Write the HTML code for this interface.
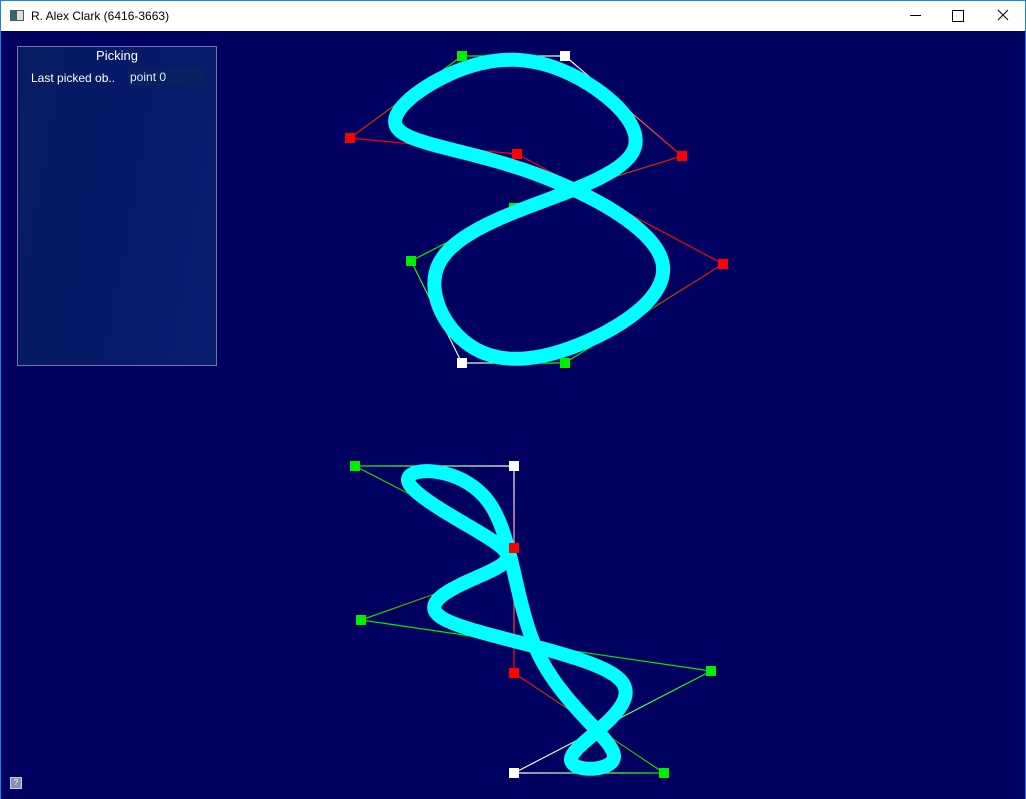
<!DOCTYPE html>
<html><head><meta charset="utf-8">
<style>
html,body{margin:0;padding:0;width:1026px;height:799px;overflow:hidden;background:#fff;font-family:"Liberation Sans",sans-serif;}
#win{position:absolute;left:0;top:0;width:1026px;height:799px;box-sizing:border-box;border:1px solid #1883d7;border-top:none;}
#titlebar{position:absolute;left:0;top:0;width:1024px;height:31px;background:#fff;border-top:1px solid #1883d7;box-sizing:border-box;}
#title{position:absolute;left:30px;top:8px;font-size:12px;color:#000;}
#appicon{position:absolute;left:9px;top:9px;width:14px;height:11px;border:1px solid #555;background:linear-gradient(90deg,#2a6a6a 50%,#ddd 50%);box-sizing:border-box;}
#client{position:absolute;left:0;top:31px;width:1024px;height:768px;background:#000060;}
#panel{position:absolute;left:16px;top:15px;width:200px;height:320px;box-sizing:border-box;border:1px solid #6a7aa0;background:linear-gradient(100deg,#061c62,#061a68 50%,#081e6e);}
#ptitle{position:absolute;left:0;top:0;width:100%;text-align:center;color:#fff;font-size:13px;line-height:18px;}
#plabel{position:absolute;left:13px;top:24px;color:#fff;font-size:12px;}
#pval{position:absolute;left:110px;top:22px;width:74px;height:17px;background:#0a2160;color:#e0e8ff;font-size:12px;line-height:17px;padding-left:2px;}
#help{position:absolute;left:9px;top:746px;width:10px;height:10px;background:#8890b0;border:1px solid #ccd;font-size:8px;line-height:10px;text-align:center;color:#fff;}
svg{position:absolute;left:0;top:0;}
</style></head>
<body>
<div id="win">
<div id="titlebar">
 <div id="appicon"></div>
 <div id="title">R. Alex Clark (6416-3663)</div>
 <div style="position:absolute;left:887px;top:0;width:46px;height:30px;"><div style="position:absolute;left:22px;top:14px;width:11px;height:1px;background:#000"></div></div>
 <div style="position:absolute;left:933px;top:0;width:46px;height:30px;"><div style="position:absolute;left:18px;top:9px;width:10px;height:10px;border:1px solid #000"></div></div>
 <div style="position:absolute;left:979px;top:0;width:46px;height:30px;">
  <svg width="46" height="30" style="position:absolute;left:0;top:0"><line x1="18" y1="9" x2="28" y2="19" stroke="#000" stroke-width="1"/><line x1="28" y1="9" x2="18" y2="19" stroke="#000" stroke-width="1"/></svg>
 </div>
</div>
<div id="client">
 <svg id="plot" width="1024" height="768" viewBox="0 31 1024 768"></svg>
 <div id="panel">
  <div id="ptitle">Picking</div>
  <div id="plabel">Last picked ob..</div>
  <div id="pval">point 0</div>
 </div>
 <div id="help">?</div>
</div>
</div>
<script>
// top curve control points
const topX = [564,681,513,410,461,564,722,516,349,461];
const topY = [56,156,208,261,363,363,264,154,138,56];
const topC = ['#ffffff','#ff0000','#00ee00','#00ee00','#ffffff','#00ee00','#ff0000','#ff0000','#ff0000','#00ee00'];
const topHidden = [false,false,true,false,false,false,false,false,false,false];
// bottom curve control points
const botX = [513,354,513,513,360,710,513,663,513];
const botY = [466,466,548,566,620,671,773,773,673];
const botC = ['#ffffff','#00ee00','#ff0000','#ff0000','#00ee00','#00ee00','#ffffff','#00ee00','#ff0000'];
const botHidden = [false,false,false,true,false,false,false,false,false];

const NS='http://www.w3.org/2000/svg';
const svg=document.getElementById('plot');
const defs=document.createElementNS(NS,'defs');svg.appendChild(defs);
let gid=0;
function mk(t,a){const e=document.createElementNS(NS,t);for(const k in a)e.setAttribute(k,a[k]);return e;}
function drawSpline(xs,ys,cs,hidden,name){
 const n=xs.length;
 const g=mk('g',{});
 
 
 svg.appendChild(g);
 for(let i=0;i<n;i++){
  const j=(i+1)%n;
  const id='gr'+(gid++);
  const lg=mk('linearGradient',{id:id,gradientUnits:'userSpaceOnUse',x1:xs[i],y1:ys[i],x2:xs[j],y2:ys[j]});
  lg.appendChild(mk('stop',{offset:'0','stop-color':cs[i]}));
  lg.appendChild(mk('stop',{offset:'1','stop-color':cs[j]}));
  defs.appendChild(lg);
  const l=mk('line',{x1:xs[i],y1:ys[i],x2:xs[j],y2:ys[j],stroke:'url(#'+id+')','stroke-width':1.2});
  
  
  g.appendChild(l);
 }
 for(let i=0;i<n;i++) if(hidden[i]){
  const r=mk('rect',{x:xs[i]-5,y:ys[i]-5,width:10,height:10,fill:cs[i]});
  
  
  g.appendChild(r);
 }
 let d='';
 for(let i=0;i<n;i++){
  const p0=i,p1=(i+1)%n,p2=(i+2)%n,p3=(i+3)%n;
  for(let s=0;s<=30;s++){
   const t=s/30,t2=t*t,t3=t2*t;
   const b0=(1-t)**3/6,b1=(3*t3-6*t2+4)/6,b2=(-3*t3+3*t2+3*t+1)/6,b3=t3/6;
   const x=b0*xs[p0]+b1*xs[p1]+b2*xs[p2]+b3*xs[p3];
   const y=b0*ys[p0]+b1*ys[p1]+b2*ys[p2]+b3*ys[p3];
   d+=(d?'L':'M')+x.toFixed(2)+' '+y.toFixed(2);
  }
 }
 const path=mk('path',{d:d+'Z',fill:'none',stroke:'#00ffff','stroke-width':14,'stroke-linejoin':'round'});
 
 
 g.appendChild(path);
 for(let i=0;i<n;i++) if(!hidden[i]){
  const r=mk('rect',{x:xs[i]-5,y:ys[i]-5,width:10,height:10,fill:cs[i]});
  
  
  g.appendChild(r);
 }
}
drawSpline(topX,topY,topC,topHidden,'top-spline');
drawSpline(botX,botY,botC,botHidden,'bottom-spline');
</script>
</body></html>
